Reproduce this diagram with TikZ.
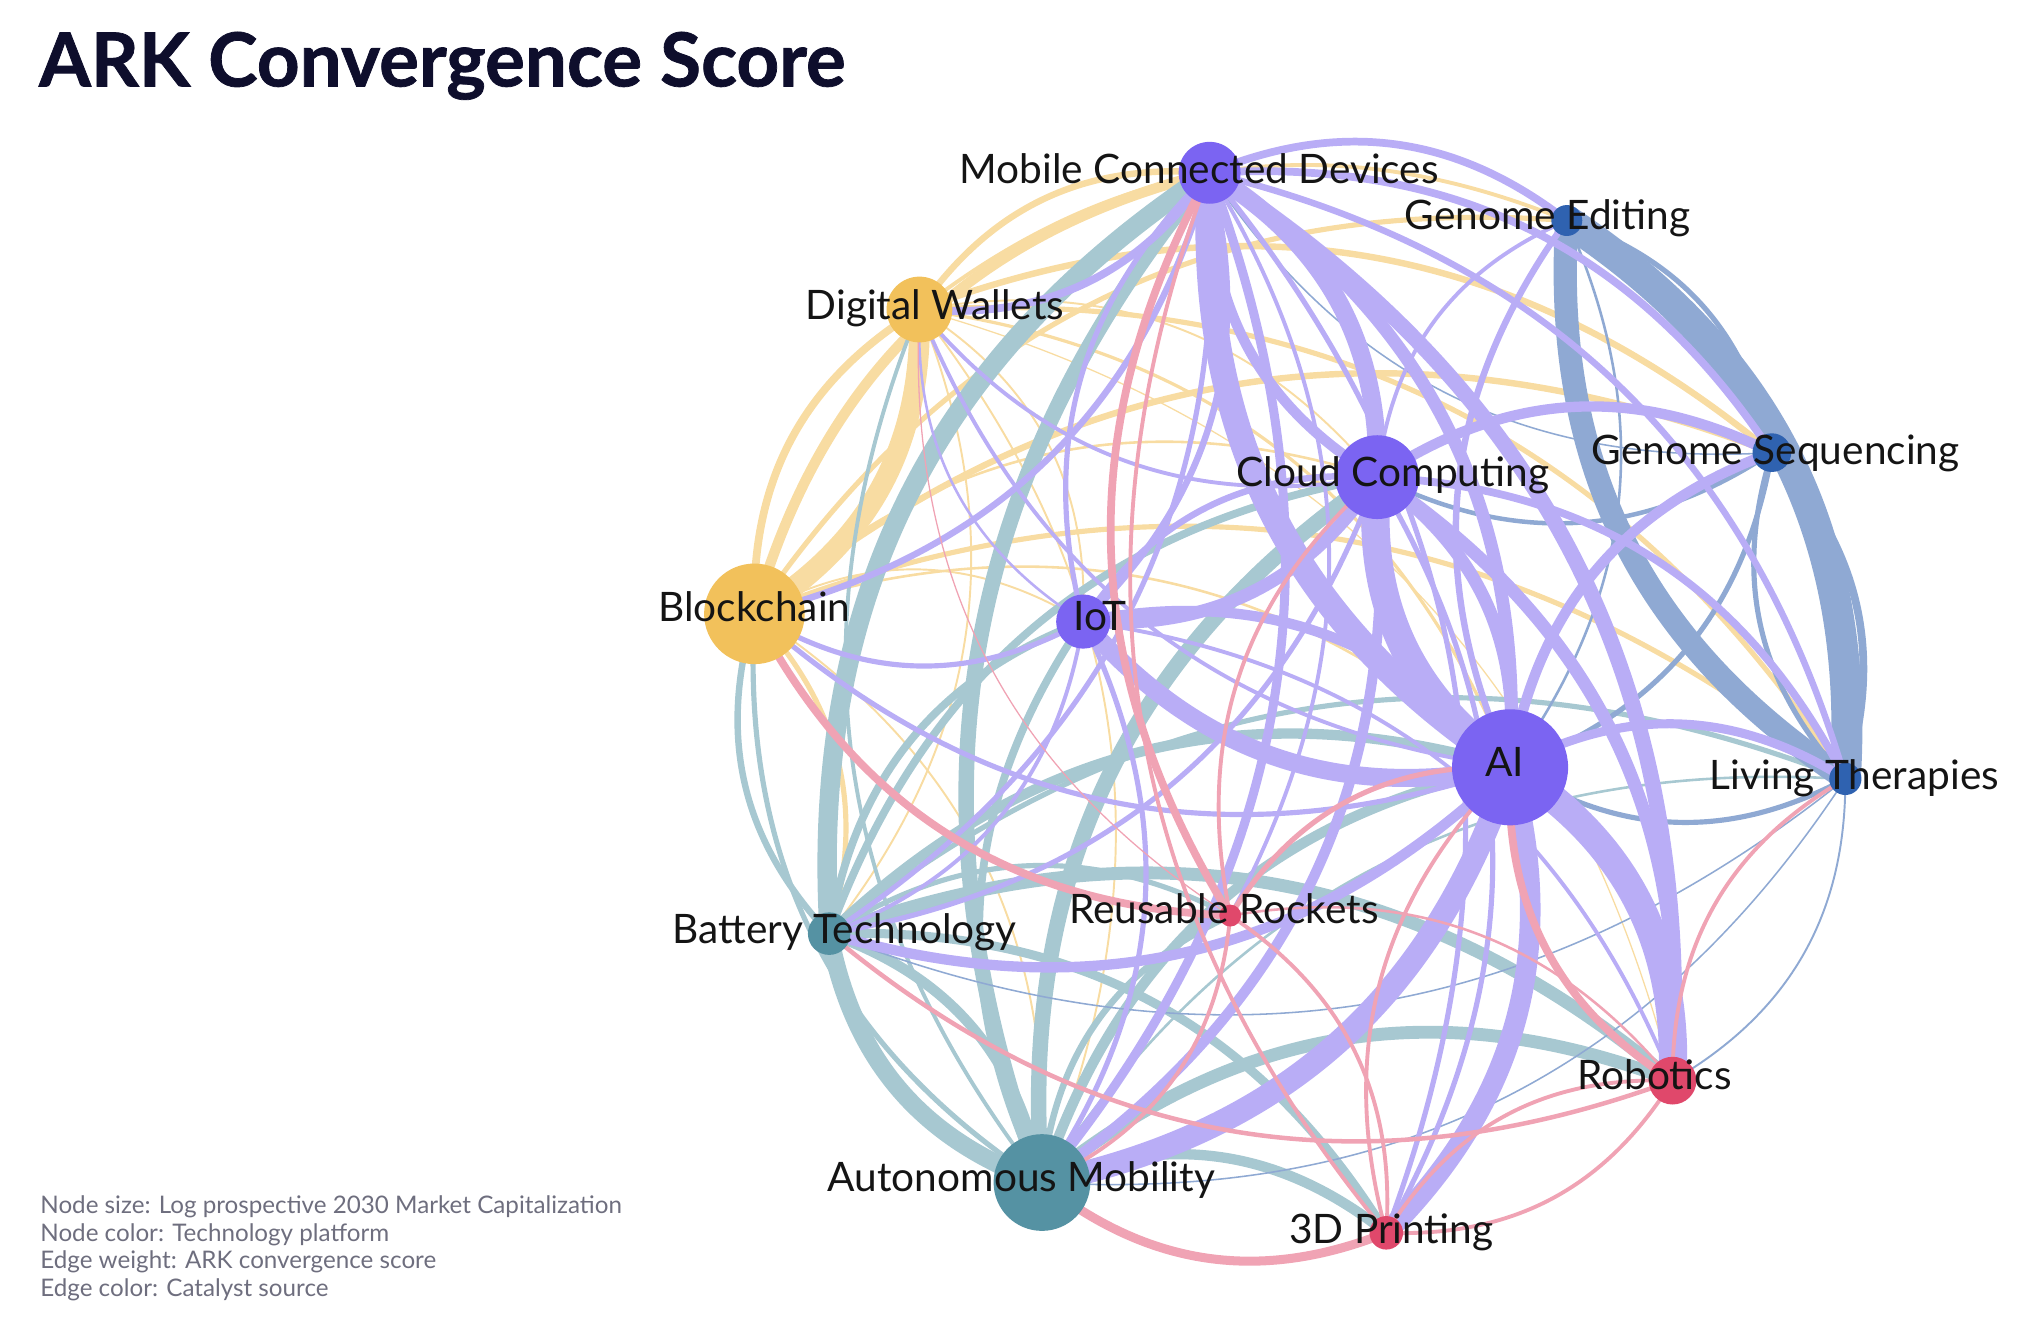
\documentclass[tikz,border=0pt]{standalone}
\usepackage{fontspec}
\setmainfont{Lato}
\definecolor{pN}{HTML}{7B64F2}\definecolor{pE}{HTML}{B9ADF6}
\definecolor{yN}{HTML}{F2C15B}\definecolor{yE}{HTML}{F8DCA2}
\definecolor{tN}{HTML}{5592A3}\definecolor{tE}{HTML}{A7C8D1}
\definecolor{bN}{HTML}{2F62B0}\definecolor{bE}{HTML}{8FA9D3}
\definecolor{rN}{HTML}{E0486B}\definecolor{rE}{HTML}{F0A3B4}
\definecolor{ttl}{HTML}{0E0E2C}\definecolor{leg}{HTML}{6E6E7E}
\pgfdeclarelayer{bg}\pgfsetlayers{bg,main}
\newcommand\edgeto[4]{\draw[#3, line width=#4*0.6448pt] (#1.center) to[bend left=30] (#2.center);}
\tikzset{
  eP/.style={draw=pE}, eY/.style={draw=yE}, eT/.style={draw=tE}, eB/.style={draw=bE}, eR/.style={draw=rE},
  dot/.style={circle, inner sep=0pt, minimum size=#1*0.6448pt},
  lbl/.style={anchor=mid, inner sep=0pt, font=\fontsize{20.3}{24}\selectfont, text=black!92},
  legtxt/.style={anchor=base west, inner sep=0pt, font=\fontsize{12.1}{14}\selectfont, text=leg}
}
\begin{document}
\begin{tikzpicture}[x=0.6448pt, y=-0.6448pt]
\useasboundingbox (0,0) rectangle (1568,1038);
% nodes
\node[dot=48, fill=pN] (MCD) at (938,134) {};
\node[dot=24, fill=bN] (GE) at (1215,171) {};
\node[dot=51, fill=yN] (DW) at (713,240) {};
\node[dot=65, fill=pN] (CC) at (1068,370) {};
\node[dot=30, fill=bN] (GS) at (1374,351) {};
\node[dot=78, fill=yN] (BC) at (585,476) {};
\node[dot=42, fill=pN] (IoT) at (840,482) {};
\node[dot=90, fill=pN] (AI) at (1171,595) {};
\node[dot=25, fill=bN] (LT) at (1431,604) {};
\node[dot=17, fill=rN] (RR) at (954,710) {};
\node[dot=33, fill=tN] (BT) at (643,724) {};
\node[dot=37, fill=rN] (RO) at (1297,838) {};
\node[dot=75, fill=tN] (AM) at (808,917) {};
\node[dot=26, fill=rN] (TD) at (1075,956) {};
\begin{pgfonlayer}{bg}
% yellow
\edgeto{DW}{BC}{eY}{16}
\edgeto{BC}{DW}{eY}{6}
\edgeto{BC}{MCD}{eY}{8}
\edgeto{DW}{MCD}{eY}{5}
\edgeto{BC}{GE}{eY}{4}
\edgeto{BC}{GS}{eY}{5}
\edgeto{BC}{LT}{eY}{4}
\edgeto{BC}{CC}{eY}{2}
\edgeto{BC}{AI}{eY}{2}
\edgeto{BC}{IoT}{eY}{1.5}
\edgeto{BC}{BT}{eY}{4}
\edgeto{BC}{AM}{eY}{1.5}
\edgeto{DW}{GS}{eY}{5}
\edgeto{DW}{LT}{eY}{4}
\edgeto{DW}{AI}{eY}{2.5}
\edgeto{DW}{CC}{eY}{1.5}
\edgeto{DW}{GE}{eY}{3}
\edgeto{DW}{IoT}{eY}{1.5}
\edgeto{DW}{BT}{eY}{1.5}
\edgeto{DW}{AM}{eY}{1.5}
\edgeto{DW}{RO}{eY}{1}
% teal
\edgeto{BT}{MCD}{eT}{15}
\edgeto{AM}{MCD}{eT}{12}
\edgeto{AM}{CC}{eT}{12}
\edgeto{BT}{CC}{eT}{6}
\edgeto{BT}{IoT}{eT}{6}
\edgeto{BT}{AI}{eT}{8}
\edgeto{BT}{LT}{eT}{4}
\edgeto{AM}{BT}{eT}{14}
\edgeto{BT}{AM}{eT}{8}
\edgeto{AM}{BC}{eT}{4}
\edgeto{BT}{BC}{eT}{5}
\edgeto{AM}{AI}{eT}{8}
\edgeto{AM}{RO}{eT}{10}
\edgeto{AM}{TD}{eT}{8}
\edgeto{BT}{RO}{eT}{10}
\edgeto{BT}{TD}{eT}{7}
\edgeto{BT}{RR}{eT}{4}
\edgeto{AM}{RR}{eT}{5}
\edgeto{AM}{IoT}{eT}{6}
\edgeto{AM}{DW}{eT}{3}
\edgeto{AM}{LT}{eT}{2}
% blue
\edgeto{GE}{LT}{eB}{24}
\edgeto{LT}{GE}{eB}{18}
\edgeto{GE}{GS}{eB}{4}
\edgeto{GS}{LT}{eB}{6}
\edgeto{LT}{GS}{eB}{4}
\edgeto{GS}{AI}{eB}{4}
\edgeto{GS}{CC}{eB}{3.5}
\edgeto{LT}{AI}{eB}{4}
\edgeto{GE}{AI}{eB}{2}
\edgeto{GS}{MCD}{eB}{1.2}
\edgeto{LT}{RO}{eB}{1.5}
\edgeto{LT}{BT}{eB}{1.2}
\edgeto{LT}{AM}{eB}{1.2}
% purple
\edgeto{MCD}{CC}{eP}{14}
\edgeto{MCD}{AI}{eP}{10}
\edgeto{MCD}{IoT}{eP}{5}
\edgeto{MCD}{DW}{eP}{6}
\edgeto{MCD}{BC}{eP}{5}
\edgeto{MCD}{GE}{eP}{6}
\edgeto{MCD}{GS}{eP}{6}
\edgeto{MCD}{LT}{eP}{5}
\edgeto{MCD}{RO}{eP}{12}
\edgeto{MCD}{TD}{eP}{4}
\edgeto{MCD}{AM}{eP}{7}
\edgeto{MCD}{BT}{eP}{4}
\edgeto{MCD}{RR}{eP}{3}
\edgeto{CC}{MCD}{eP}{8}
\edgeto{CC}{AI}{eP}{10}
\edgeto{CC}{IoT}{eP}{10}
\edgeto{CC}{GS}{eP}{8}
\edgeto{CC}{LT}{eP}{6}
\edgeto{CC}{RO}{eP}{10}
\edgeto{CC}{TD}{eP}{4}
\edgeto{CC}{AM}{eP}{8}
\edgeto{CC}{BT}{eP}{4}
\edgeto{CC}{DW}{eP}{3}
\edgeto{CC}{GE}{eP}{3}
\edgeto{AI}{MCD}{eP}{20}
\edgeto{AI}{CC}{eP}{22}
\edgeto{AI}{IoT}{eP}{14}
\edgeto{AI}{RO}{eP}{22}
\edgeto{AI}{TD}{eP}{16}
\edgeto{AI}{AM}{eP}{18}
\edgeto{AI}{BT}{eP}{8}
\edgeto{AI}{LT}{eP}{7}
\edgeto{AI}{GS}{eP}{8}
\edgeto{AI}{GE}{eP}{5}
\edgeto{AI}{BC}{eP}{4}
\edgeto{AI}{DW}{eP}{3}
\edgeto{IoT}{AI}{eP}{8}
\edgeto{IoT}{CC}{eP}{5}
\edgeto{IoT}{MCD}{eP}{4}
\edgeto{IoT}{BC}{eP}{4}
\edgeto{IoT}{AM}{eP}{4}
\edgeto{IoT}{BT}{eP}{3}
\edgeto{IoT}{RO}{eP}{3}
\edgeto{IoT}{DW}{eP}{2}
% red
\edgeto{RR}{MCD}{eR}{6}
\edgeto{TD}{MCD}{eR}{3}
\edgeto{RR}{BC}{eR}{6}
\edgeto{RR}{CC}{eR}{3}
\edgeto{RR}{AI}{eR}{4}
\edgeto{RR}{TD}{eR}{3}
\edgeto{RR}{RO}{eR}{2}
\edgeto{RR}{AM}{eR}{3}
\edgeto{TD}{AM}{eR}{7}
\edgeto{TD}{RO}{eR}{3}
\edgeto{RO}{TD}{eR}{3}
\edgeto{RO}{AI}{eR}{6}
\edgeto{RO}{BT}{eR}{3.5}
\edgeto{RO}{LT}{eR}{3}
\edgeto{RR}{DW}{eR}{1}
\edgeto{TD}{AI}{eR}{3}
\end{pgfonlayer}
% labels
\node[lbl] (lMCD) at (930,138) {Mobile Connected Devices};
\node[lbl] (lGE) at (1200,174) {Genome Editing};
\node[lbl] (lDW) at (725,244) {Digital Wallets};
\node[lbl] (lCC) at (1080,373) {Cloud Computing};
\node[lbl] (lGS) at (1377,356) {Genome Sequencing};
\node[lbl] (lBC) at (585,478) {Blockchain};
\node[lbl] (lIoT) at (853,485) {IoT};
\node[lbl] (lAI) at (1167,598) {AI};
\node[lbl] (lLT) at (1438,608) {Living Therapies};
\node[lbl] (lRR) at (949,712) {Reusable Rockets};
\node[lbl] (lBT) at (655,728) {Battery Technology};
\node[lbl] (lRO) at (1283,841) {Robotics};
\node[lbl] (lAM) at (792,920) {Autonomous Mobility};
\node[lbl] (lTD) at (1079,960) {3D Printing};
% title and legend
\node[anchor=base west, inner sep=0pt, font=\fontsize{37.3}{44}\selectfont\bfseries\addfontfeatures{FakeBold=1}, text=ttl] (title) at (30,67) {ARK Convergence Score};
\node[legtxt] (g1) at (31,941) {Node size: Log prospective 2030 Market Capitalization};
\node[legtxt] (g2) at (31,962.5) {Node color: Technology platform};
\node[legtxt] (g3) at (31,984) {Edge weight: ARK convergence score};
\node[legtxt] (g4) at (31,1005.5) {Edge color: Catalyst source};
\end{tikzpicture}
\end{document}
